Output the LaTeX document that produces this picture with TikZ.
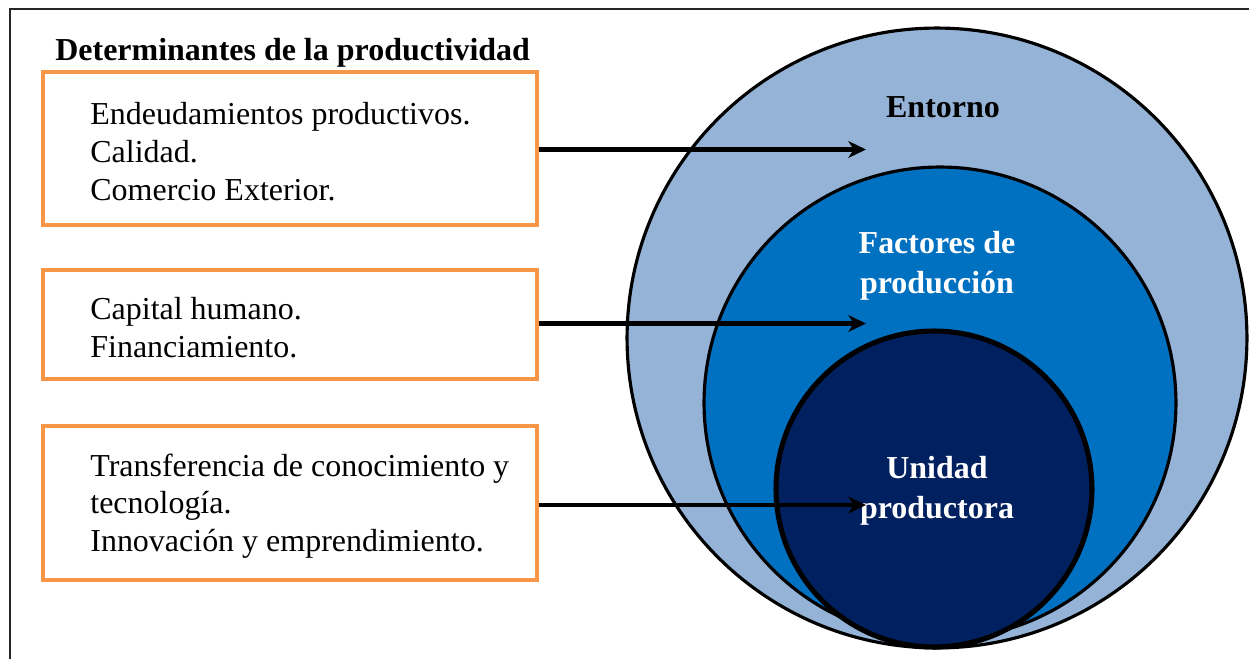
\documentclass[tikz,border=0pt]{standalone}
\usepackage{fontspec}
\setmainfont{Liberation Serif}
\usetikzlibrary{arrows.meta}
\usetikzlibrary{positioning}

\definecolor{boxorange}{HTML}{F79646}
\definecolor{entornoblue}{HTML}{95B3D7}
\definecolor{factblue}{HTML}{0070C0}
\definecolor{unidblue}{HTML}{002060}

\tikzset{
    detbox/.style={rectangle, draw=boxorange, line width=2.3pt, fill=white,
        minimum width=9.88cm, inner sep=0pt},
    detlist/.style={align=left, inner sep=0pt, font=\fontsize{18.2}{21.5}\selectfont},
    ring/.style={circle, draw=black, line width=1.8pt, inner sep=0pt},
    ringlabel/.style={align=center, inner sep=0pt, font=\fontsize{18.2}{23}\selectfont\bfseries},
    conn/.style={line width=2.5pt, -{Stealth[length=10pt, width=9.5pt, inset=3pt]}}
}

\begin{document}
\begin{tikzpicture}[x=0.02cm, y=-0.02cm]

        \useasboundingbox (0,0) rectangle (1249,659);
        \draw[line width=1.1pt, black!85] (10,670) -- (10,9) -- (1260,9);

        \node[anchor=base west, inner sep=0pt, font=\fontsize{18.2}{21.5}\selectfont\bfseries] (title) at (55,60) {Determinantes de la productividad};

        % the three circles
        \node[ring, fill=entornoblue, minimum size=12.4cm] (entorno) at (937,338) {};
        \node[ring, fill=factblue, minimum size=9.44cm] (factores) at (940,403) {};
        \node[ring, fill=unidblue, line width=2.9pt, minimum size=6.32cm] (unidad) at (934,489) {};

        \node[ringlabel] (entlbl) at (943,107) {Entorno};
        \node[ringlabel, text=white] (factlbl) at (937,266) {Factores de\\producci\'on};
        \node[ringlabel, text=white] (unidlbl) at (937,491) {Unidad\\productora};

        % boxes on the left
        \node[detbox, minimum height=3.06cm] (b1) at (290,148.5) {};
        \node[detbox, minimum height=2.18cm] (b2) at (290,324.5) {};
        \node[detbox, minimum height=3.08cm] (b3) at (290,503) {};

        \node[detlist, right=0.98cm of b1.west, yshift=-0.06cm] (t1) {Endeudamientos productivos.\\Calidad.\\Comercio Exterior.};
        \node[detlist, right=0.98cm of b2.west, yshift=-0.06cm] (t2) {Capital humano.\\Financiamiento.};
        \node[detlist, right=0.98cm of b3.west, yshift=-0.06cm] (t3) {Transferencia de conocimiento y\\tecnolog\'ia.\\Innovaci\'on y emprendimiento.};

        \coordinate (e1) at (866,149.5);
        \coordinate (e2) at (866,323.5);
        \coordinate (e3) at (866,505);
        \draw[conn] (b1.east |- e1) -- (e1);
        \draw[conn] (b2.east |- e2) -- (e2);
        \draw[conn] (b3.east |- e3) -- (e3);

\end{tikzpicture}
\end{document}
